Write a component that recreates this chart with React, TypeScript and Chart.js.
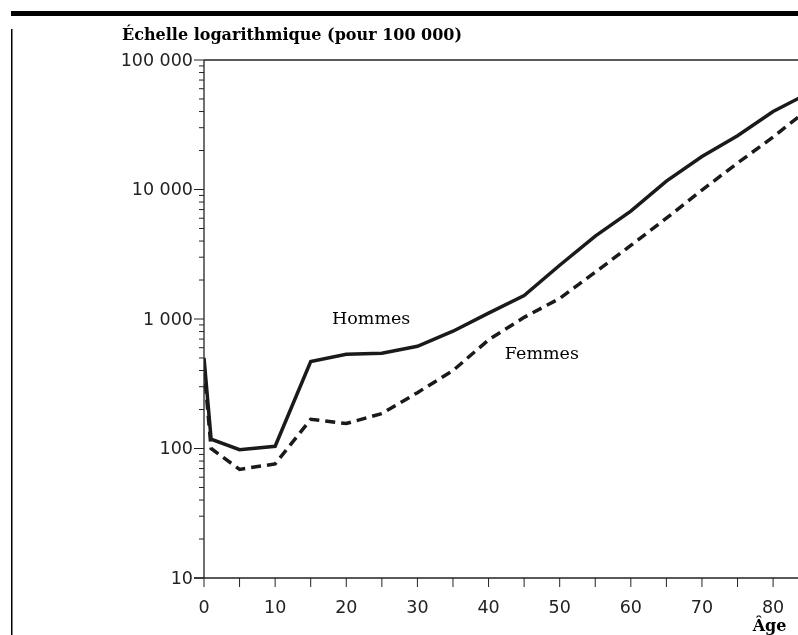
import React, { useEffect, useRef } from "react";
import { Chart, registerables } from "chart.js";

Chart.register(...registerables);

const ages = [0, 1, 5, 10, 15, 20, 25, 30, 35, 40, 45, 50, 55, 60, 65, 70, 75, 80, 84];
const hommes = [500, 118, 98, 104, 470, 535, 545, 615, 805, 1110, 1515, 2600, 4370, 6800, 11600, 18000, 26000, 40000, 52000];
const femmes = [420, 100, 69, 76, 168, 156, 186, 270, 400, 690, 1030, 1440, 2300, 3700, 6000, 9900, 16000, 25400, 38000];

const yMajorTicks = [10, 100, 1000, 10000, 100000];
const yMajorLabels = ["10", "100", "1 000", "10 000", "100 000"];
const xTicks = [0, 5, 10, 15, 20, 25, 30, 35, 40, 45, 50, 55, 60, 65, 70, 75, 80];
const xLabels = [0, 10, 20, 30, 40, 50, 60, 70, 80];

const titleText = "Échelle logarithmique (pour 100 000)";
const xTitle = "Âge";
const seriesLabels = [
  { text: "Hommes", age: 23.5, value: 1000 },
  { text: "Femmes", age: 47.5, value: 530 },
];

const SANS = '"DejaVu Sans", sans-serif';
const SERIF = '"DejaVu Serif", serif';

const decorPlugin = {
  id: "decor",
  afterDraw(chart: any) {
    const ctx = chart.ctx as CanvasRenderingContext2D;
    const xs = chart.scales.x;
    const ys = chart.scales.y;
    const area = chart.chartArea;
    ctx.save();
    // top rule
    ctx.fillStyle = "#000";
    ctx.fillRect(11, 11, chart.width - 11, 5);
    // left vertical line
    ctx.fillRect(11, 29, 1.5, chart.height - 29);
    ctx.strokeStyle = "#222";
    ctx.lineWidth = 1.3;
    // top border
    ctx.beginPath();
    ctx.moveTo(area.left, area.top);
    ctx.lineTo(area.right, area.top);
    ctx.stroke();
    // y axis
    ctx.beginPath();
    ctx.moveTo(area.left, area.top);
    ctx.lineTo(area.left, area.bottom);
    ctx.stroke();
    // x axis
    ctx.beginPath();
    ctx.moveTo(area.left - 10, area.bottom);
    ctx.lineTo(area.right, area.bottom);
    ctx.stroke();
    // y ticks
    ctx.lineWidth = 1;
    for (let p = 0; p < yMajorTicks.length; p++) {
      const base = yMajorTicks[p];
      const yp = ys.getPixelForValue(base);
      ctx.beginPath();
      ctx.moveTo(area.left - 10, yp);
      ctx.lineTo(area.left, yp);
      ctx.stroke();
      if (p < yMajorTicks.length - 1) {
        for (let m = 2; m <= 9; m++) {
          const ym = ys.getPixelForValue(base * m);
          ctx.beginPath();
          ctx.moveTo(area.left - 5, ym);
          ctx.lineTo(area.left, ym);
          ctx.stroke();
        }
      }
    }
    // x ticks
    for (const t of xTicks) {
      const xp = xs.getPixelForValue(t);
      ctx.beginPath();
      ctx.moveTo(xp, area.bottom);
      ctx.lineTo(xp, area.bottom + 9);
      ctx.stroke();
    }
    // y labels
    ctx.fillStyle = "#222";
    ctx.font = `17.5px ${SANS}`;
    ctx.textAlign = "right";
    ctx.textBaseline = "middle";
    yMajorTicks.forEach((v, i) => {
      ctx.fillText(yMajorLabels[i], area.left - 11, ys.getPixelForValue(v) + 1);
    });
    // x labels
    ctx.textAlign = "center";
    for (const v of xLabels) {
      ctx.fillText(String(v), xs.getPixelForValue(v), area.bottom + 30);
    }
    // title
    ctx.fillStyle = "#000";
    ctx.font = `600 16px ${SERIF}`;
    ctx.textAlign = "left";
    ctx.textBaseline = "alphabetic";
    ctx.fillText(titleText, 122, 40);
    // x title
    ctx.textAlign = "center";
    ctx.fillText(xTitle, xs.getPixelForValue(79.5), area.bottom + 53);
    // series labels
    ctx.font = `500 17.5px ${SERIF}`;
    ctx.textBaseline = "middle";
    for (const s of seriesLabels) {
      ctx.fillText(s.text, xs.getPixelForValue(s.age), ys.getPixelForValue(s.value));
    }
    ctx.restore();
  },
};

export default function App() {
  const ref = useRef<HTMLCanvasElement | null>(null);
  useEffect(() => {
    if (!ref.current) return;
    const chart = new Chart(ref.current, {
      type: "line",
      data: {
        labels: ages,
        datasets: [
          {
            label: "Hommes",
            data: ages.map((a, i) => ({ x: a, y: hommes[i] })),
            borderColor: "#1a1a1a",
            borderWidth: 3.5,
            pointRadius: 0,
            tension: 0,
          },
          {
            label: "Femmes",
            data: ages.map((a, i) => ({ x: a, y: femmes[i] })),
            borderColor: "#1a1a1a",
            borderWidth: 3.5,
            borderDash: [10, 6],
            pointRadius: 0,
            tension: 0,
          },
        ],
      },
      options: {
        animation: false,
        responsive: true,
        maintainAspectRatio: false,
        layout: { padding: { left: 204, top: 60, right: 0, bottom: 57 } },
        plugins: { legend: { display: false }, tooltip: { enabled: false }, title: { display: false } },
        scales: {
          x: { type: "linear", min: 0, max: 83.5, display: false },
          y: { type: "logarithmic", min: 10, max: 100000, display: false },
        },
      },
      plugins: [decorPlugin],
    });
    return () => chart.destroy();
  }, []);
  return (
    <div style={{ position: "fixed", left: 0, top: 0, width: 798, height: 635, background: "#fff" }}>
      <canvas ref={ref} />
    </div>
  );
}
